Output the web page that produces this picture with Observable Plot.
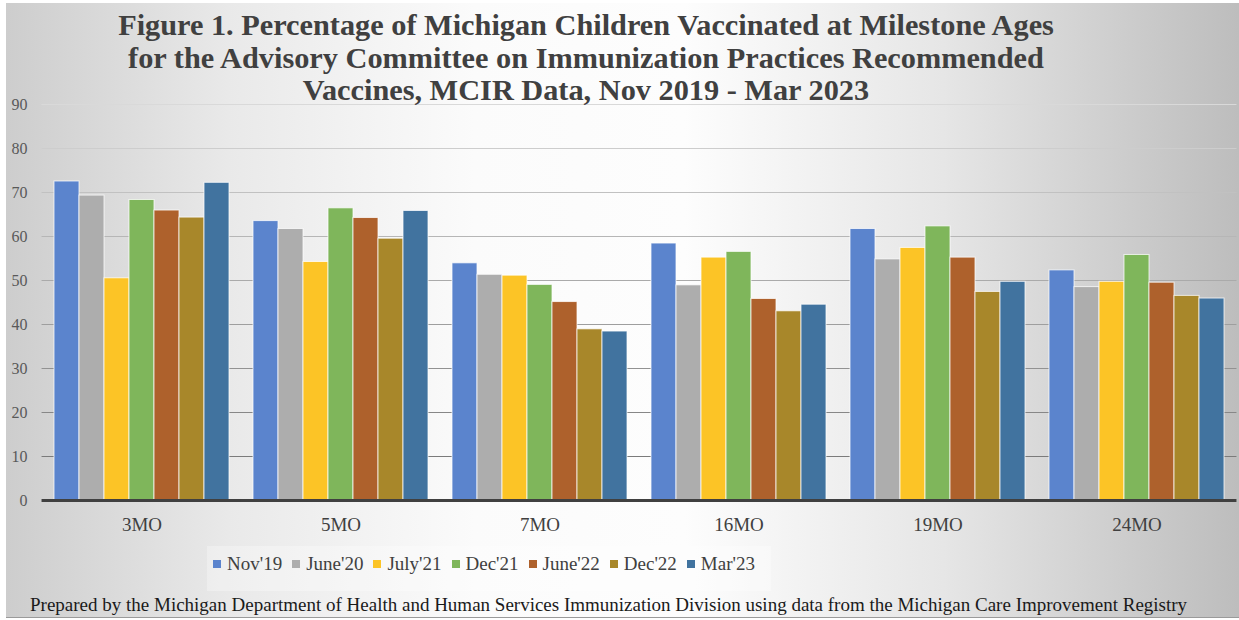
<!DOCTYPE html>
<html>
<head>
<meta charset="utf-8">
<script src="https://cdn.jsdelivr.net/npm/d3@7"></script>
<script src="https://cdn.jsdelivr.net/npm/@observablehq/plot@0.6"></script>
<style>
  html, body { margin: 0; padding: 0; background: #fff; }
  #frame {
    position: relative; width: 1239px; height: 620px; overflow: hidden; background: #fff;
    font-family: "Liberation Serif", "Times New Roman", serif;
  }
  #panel {
    position: absolute; left: 6px; top: 3px; width: 1233px; height: 614px;
    background: linear-gradient(90deg, #cdcdcd 0%, #e9e9e9 18%, #fbfbfb 38%, #fdfdfd 55%, #e6e6e6 76%, #bdbdbd 100%);
    border-bottom: 1px solid #9a9a9a;
  }
  #chart { position: absolute; left: 0; top: 0; }
  #title {
    position: absolute; left: 0; top: 9px; width: 1172px; text-align: center;
    font-weight: bold; font-size: 30.3px; line-height: 32.5px; color: #404040;
  }
  #legend {
    position: absolute; left: 207px; top: 546px; padding: 1px 6px;
    background: rgba(255,255,255,0.3);
  }
  #legend, #legend * {
    font-family: "Liberation Serif", "Times New Roman", serif !important;
    font-size: 19px !important; color: #404040 !important;
  }
  #legend .lg-swatch { margin-right: 10px !important; }
  #legend .lg-swatch > svg { margin-right: 6px !important; }
  #caption {
    position: absolute; left: 30px; top: 594px; white-space: nowrap;
    font-family: "Liberation Serif", "Times New Roman", serif !important;
    font-size: 19px; color: #1a1a1a;
  }
</style>
</head>
<body>
<div id="frame">
  <div id="panel"></div>
  <div id="chart"></div>
  <div id="title"></div>
  <div id="legend"></div>
  <div id="caption"></div>
</div>
<script>
// Milestone ages (one group of bars each)
const ages = ["3MO", "5MO", "7MO", "16MO", "19MO", "24MO"];
// Reporting periods (one bar per group)
const periods = ["Nov'19", "June'20", "July'21", "Dec'21", "June'22", "Dec'22", "Mar'23"];

// Percent vaccinated, per period, in the order of `ages`
const nov19  = [72.5, 63.5, 53.9, 58.4, 61.7, 52.3];
const june20 = [69.3, 61.7, 51.3, 48.9, 54.8, 48.5];
const july21 = [50.5, 54.2, 51.1, 55.2, 57.4, 49.7];
const dec21  = [68.3, 66.4, 49.0, 56.5, 62.3, 55.8];
const june22 = [65.9, 64.2, 45.1, 45.8, 55.2, 49.5];
const dec22  = [64.3, 59.5, 38.9, 43.0, 47.4, 46.5];
const mar23  = [72.2, 65.8, 38.4, 44.5, 49.7, 45.9];

const yTicks = [0, 10, 20, 30, 40, 50, 60, 70, 80, 90];

const titleLines = [
  "Figure 1. Percentage of Michigan Children Vaccinated at Milestone Ages",
  "for the Advisory Committee on Immunization Practices Recommended",
  "Vaccines, MCIR Data, Nov 2019 - Mar 2023"
];
const captionText = "Prepared by the Michigan Department of Health and Human Services Immunization Division using data from the Michigan Care Improvement Registry";

const seriesValues = [nov19, june20, july21, dec21, june22, dec22, mar23];
const palette = ["#5b84cd", "#adadad", "#fcc426", "#7fb65b", "#ae612c", "#a8872a", "#41739f"];

const rows = ages.flatMap((age, i) =>
  periods.map((period, j) => ({age, period, value: seriesValues[j][i]}))
);

const serif = "Liberation Serif, Times New Roman, serif";
const gridColor = d3.interpolateRgb("#6f6f6f", "#d9d9d9");

// Layout of the age groups
const W = 1239, mL = 42, mR = 3;
const padInner = 0.09, padOuter = 0.045;
const step = (W - mL - mR) / (ages.length - padInner + 2 * padOuter);
// Rules are drawn per group and widened over the gaps so they read as one line
const bleed = -(step * padInner) / 2 - 0.5;

const chart = Plot.plot({
  width: W,
  height: 545,
  marginLeft: mL,
  marginRight: mR,
  marginTop: 104,
  marginBottom: 45,
  style: {background: "transparent", fontFamily: serif, overflow: "visible"},
  fx: {domain: ages, paddingInner: padInner, paddingOuter: padOuter, axis: null, label: null},
  x: {domain: periods, padding: 0, axis: null},
  y: {domain: [0, 90], axis: null},
  color: {domain: periods, range: palette},
  marks: [
    Plot.ruleY(yTicks.filter(d => d > 0), {
      stroke: d => gridColor(d / 90), strokeWidth: 1.2, insetLeft: bleed, insetRight: bleed
    }),
    Plot.axisY(yTicks, {
      tickSize: 0, tickPadding: 24, fontSize: 16, fill: "#595959", label: null
    }),
    Plot.barY(rows, {
      fx: "age", x: "period", y: "value", fill: "period",
      stroke: "#ffffff", strokeOpacity: 0.75, strokeWidth: 1
    }),
    Plot.axisFx({
      anchor: "bottom", tickSize: 0, tickPadding: 17, fontSize: 19, fill: "#404040", label: null
    }),
    Plot.ruleY([0], {stroke: "#404040", strokeWidth: 3, insetLeft: bleed, insetRight: bleed})
  ]
});
document.getElementById("chart").appendChild(chart);

document.getElementById("title").innerHTML = titleLines.join("<br>");
document.getElementById("caption").textContent = captionText;

const legend = Plot.legend({
  color: {domain: periods, range: palette},
  legend: "swatches",
  swatchSize: 8,
  className: "lg"
});
document.getElementById("legend").appendChild(legend);
</script>
</body>
</html>
